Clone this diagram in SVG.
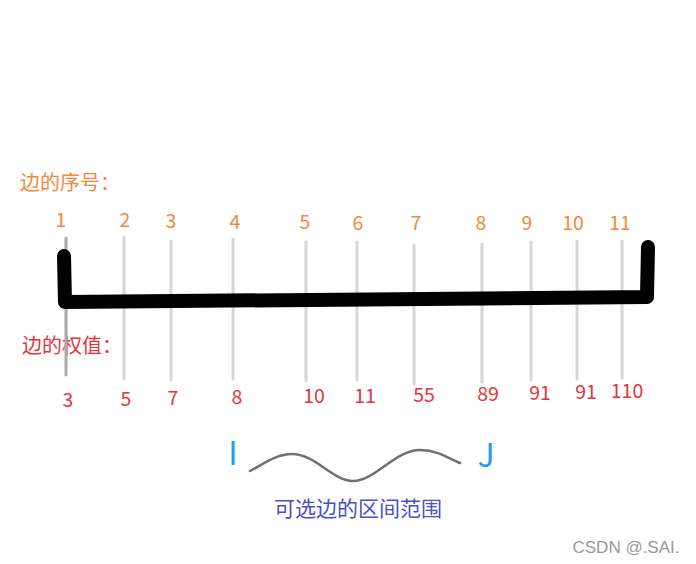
<svg xmlns="http://www.w3.org/2000/svg" width="696" height="564" viewBox="0 0 696 564">
<style>
text{font-family:"Noto Sans CJK SC","Noto Sans",sans-serif}
.idx{fill:#f5883a;font-size:19.5px;text-anchor:middle}
.w{fill:#e5343f;font-size:19.5px;text-anchor:middle}
.tick{stroke:#d6d6d6;stroke-width:3;stroke-linecap:round;fill:none}
.bar{stroke:#000;stroke-width:14;stroke-linecap:round;stroke-linejoin:round;fill:none}
</style>
<rect width="696" height="564" fill="#fff"/>
<g id="labels">
<text x="20" y="190" style="fill:#f5883a;font-size:20px">边的序号：</text>
<text x="22" y="353" style="fill:#e5343f;font-size:20px">边的权值：</text>
</g>
<g id="ticks">
<line class="tick" x1="66" y1="238" x2="66" y2="375" style="stroke:#aaa"/>
<line class="tick" x1="124" y1="237" x2="124" y2="379"/>
<line class="tick" x1="171" y1="241" x2="171" y2="380"/>
<line class="tick" x1="233" y1="239" x2="233" y2="379"/>
<line class="tick" x1="306" y1="242" x2="306" y2="381"/>
<line class="tick" x1="357" y1="242" x2="357" y2="380"/>
<line class="tick" x1="414" y1="245" x2="414" y2="384"/>
<line class="tick" x1="482" y1="244" x2="482" y2="382"/>
<line class="tick" x1="531" y1="242" x2="531" y2="380"/>
<line class="tick" x1="577" y1="241" x2="577" y2="379"/>
<line class="tick" x1="622" y1="241" x2="622" y2="378"/>
</g>
<g id="bar">
<path class="bar" d="M64,256 L65,302 L647,297 L648,247"/>
</g>
<g id="indices">
<text class="idx" x="61" y="227">1</text>
<text class="idx" x="125" y="227">2</text>
<text class="idx" x="171" y="228">3</text>
<text class="idx" x="235" y="229">4</text>
<text class="idx" x="305" y="229">5</text>
<text class="idx" x="358" y="230">6</text>
<text class="idx" x="416" y="230">7</text>
<text class="idx" x="481" y="230">8</text>
<text class="idx" x="527" y="230">9</text>
<text class="idx" x="573" y="230">10</text>
<text class="idx" x="620" y="230">11</text>
</g>
<g id="weights">
<text class="w" x="68" y="407">3</text>
<text class="w" x="126" y="406">5</text>
<text class="w" x="173" y="405">7</text>
<text class="w" x="237" y="404">8</text>
<text class="w" x="314" y="403">10</text>
<text class="w" x="365" y="403">11</text>
<text class="w" x="424" y="402">55</text>
<text class="w" x="488" y="401">89</text>
<text class="w" x="540" y="400">91</text>
<text class="w" x="586" y="399">91</text>
<text class="w" x="627" y="398">110</text>
</g>
<g id="range">
<text x="233" y="465" style="fill:#1ca0e8;font-size:32px;text-anchor:middle">I</text>
<text x="486" y="467" style="fill:#1ca0e8;font-size:32px;text-anchor:middle">J</text>
<path d="M250,471 C265,463 277,454 292,454 C315,454 333,481 353,481 C375,481 395,450 420,450 C438,450 450,459 460,463" fill="none" stroke="#707070" stroke-width="2.5" stroke-linecap="round"/>
<text x="358" y="516" style="fill:#4a4fc4;font-size:21px;text-anchor:middle">可选边的区间范围</text>
</g>
<text x="626" y="553" style="fill:#999;font-size:17px;text-anchor:middle;font-family:'Liberation Sans',sans-serif">CSDN @.SAI.</text>
</svg>
